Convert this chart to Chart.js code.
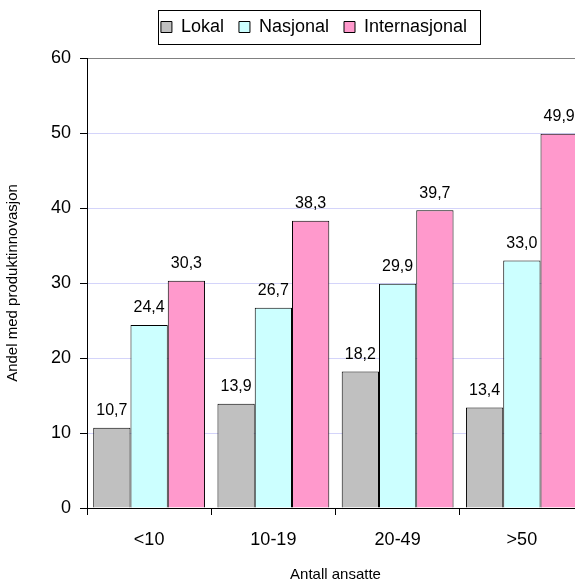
<!DOCTYPE html>
<html>
<head>
<meta charset="utf-8">
<script src="https://cdn.jsdelivr.net/npm/chart.js@4/dist/chart.umd.min.js"></script>
<style>
  html, body { margin: 0; padding: 0; background: #fff; overflow: hidden; }
  #wrap { width: 575px; height: 584px; overflow: hidden; }
</style>
</head>
<body>
<div id="wrap"><canvas id="chart" width="590" height="584"></canvas></div>
<script>
// data
const categories = ["<10", "10-19", "20-49", ">50"];
const lokal = [10.7, 13.9, 18.2, 13.4];
const nasjonal = [24.4, 26.7, 29.9, 33.0];
const internasjonal = [30.3, 38.3, 39.7, 49.9];
const yTicks = [0, 10, 20, 30, 40, 50, 60];

const FONT = "Arial, 'Liberation Sans', sans-serif";

// value labels above the bars, Norwegian decimal comma
const valueLabels = {
    id: "valueLabels",
    afterDatasetsDraw(chart) {
        const ctx = chart.ctx;
        ctx.save();
        ctx.font = "16px " + FONT;
        ctx.fillStyle = "#000";
        ctx.textAlign = "center";
        ctx.textBaseline = "bottom";
        chart.data.datasets.forEach((ds, i) => {
            chart.getDatasetMeta(i).data.forEach((bar, j) => {
                ctx.fillText(ds.data[j].toFixed(1).replace(".", ","), bar.x, bar.y - 9);
            });
        });
        ctx.restore();
    }
};

// move the legend a bit (it is not centred on the canvas in the original)
const legendShift = {
    id: "legendShift",
    afterLayout(chart) {
        const lg = chart.legend;
        lg.left += 22; lg.right += 22;
        lg.top -= 12; lg.bottom -= 12;
    }
};

// frame round the legend
const legendBox = {
    id: "legendBox",
    afterDraw(chart) {
        const boxes = chart.legend.legendHitBoxes;
        if (!boxes || !boxes.length) return;
        const first = boxes[0], last = boxes[boxes.length - 1];
        const ctx = chart.ctx;
        ctx.save();
        ctx.strokeStyle = "#000";
        ctx.lineWidth = 1;
        const x0 = Math.round(first.left - 3) + 0.5;
        const x1 = Math.round(last.left + last.width + 13) + 0.5;
        const y0 = Math.round(first.top - 8) + 0.5;
        const y1 = Math.round(first.top + first.height + 8) + 0.5;
        ctx.strokeRect(x0, y0, x1 - x0, y1 - y0);
        ctx.restore();
    }
};

new Chart(document.getElementById("chart"), {
    type: "bar",
    data: {
        labels: categories,
        datasets: [
            { label: "Lokal", data: lokal, backgroundColor: "#C0C0C0", borderColor: "#000", borderWidth: 1 },
            { label: "Nasjonal", data: nasjonal, backgroundColor: "#CCFFFF", borderColor: "#000", borderWidth: 1 },
            { label: "Internasjonal", data: internasjonal, backgroundColor: "#FF99CC", borderColor: "#000", borderWidth: 1 }
        ]
    },
    options: {
        responsive: false,
        animation: false,
        layout: { padding: { left: 0, right: 6, top: 15, bottom: 0 } },
        datasets: { bar: { categoryPercentage: 0.9, barPercentage: 1.0 } },
        plugins: {
            legend: {
                position: "top",
                labels: {
                    font: { family: FONT, size: 18 },
                    color: "#000",
                    boxWidth: 11,
                    boxHeight: 11,
                    padding: 15
                }
            },
            tooltip: { enabled: false }
        },
        scales: {
            x: {
                grid: { drawOnChartArea: false, drawTicks: true, tickLength: 7, tickColor: "#000" },
                border: { color: "#000", width: 1 },
                ticks: { font: { family: FONT, size: 18 }, color: "#000", padding: 14 },
                title: {
                    display: true,
                    text: "Antall ansatte",
                    font: { family: FONT, size: 15 },
                    color: "#000",
                    padding: { top: 0, bottom: 0 }
                },
                afterFit(scale) { scale.height = 76; }
            },
            y: {
                min: 0,
                max: 60,
                afterBuildTicks(scale) { scale.ticks = yTicks.map(v => ({ value: v })); },
                grid: {
                    color: c => (c.tick && c.tick.value === 60 ? "#808080" : "#D4D4FA"),
                    tickLength: 7,
                    tickColor: "#000"
                },
                border: { color: "#000", width: 1 },
                ticks: { font: { family: FONT, size: 18 }, color: "#000", padding: 9 },
                title: {
                    display: true,
                    text: "Andel med produktinnovasjon",
                    font: { family: FONT, size: 15 },
                    color: "#000",
                    padding: { top: 4, bottom: 0 }
                },
                afterFit(scale) { scale.width = 87; }
            }
        }
    },
    plugins: [legendShift, valueLabels, legendBox]
});
</script>
</body>
</html>
